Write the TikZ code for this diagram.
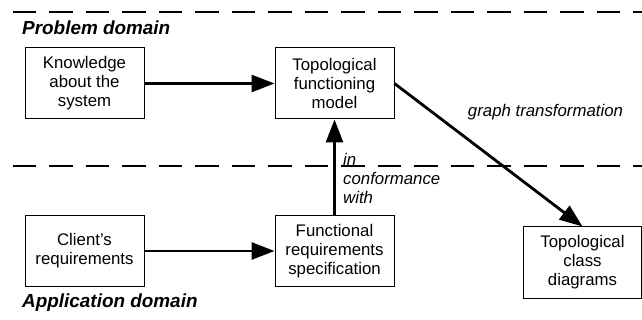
\documentclass[tikz,border=0pt]{standalone}
\usepackage{fontspec}
\setmainfont{Liberation Sans}
\usetikzlibrary{arrows.meta,positioning}

\begin{document}
\begin{tikzpicture}[x=1pt,y=-1pt,
  box/.style={draw,line width=1pt,minimum width=119pt,minimum height=71pt,align=center,inner sep=2pt,font=\fontsize{16.8}{19}\selectfont},
  flow/.style={line width=2.8pt,-{Triangle[length=23pt,width=17pt]}},
  sep/.style={line width=1.4pt,dash pattern=on 23.5pt off 13pt},
  areatitle/.style={anchor=west,inner sep=0pt,font=\fontsize{18.9}{22}\selectfont\bfseries\itshape},
  note/.style={inner sep=0pt,align=left,font=\fontsize{16.8}{19}\selectfont\itshape}]
  \useasboundingbox (0,0) rectangle (642,320);
  % domain borders
  \coordinate (T1) at (12.7,12); \coordinate (T2) at (642,12);
  \coordinate (M1) at (12.7,166); \coordinate (M2) at (642,166);
  \draw[sep] (T1)--(T2);
  \draw[sep] (M1)--(M2);
  \node[areatitle] (pd) at (22,28) {Problem domain};
  \node[areatitle] (ad) at (22,303) {Application domain};
  % models
  \node[box] (know) at (84.5,83.5) {Knowledge\\about the\\system};
  \node[box] (tfm) at (334.5,83.5) {Topological\\functioning\\model};
  \node[box] (client) at (84.5,251) {Client’s\\requirements};
  \node[box] (frs) at (334.5,251) {Functional\\requirements\\specification};
  \node[box,minimum width=118pt] (tcd) at (582.5,262.5) {Topological\\class\\diagrams};
  \draw[flow] (know)--(tfm);
  \draw[flow] (client)--(frs);
  \draw[flow] (frs)--(tfm);
  \draw[flow] (tfm.east)--(tcd.north);
  \node[note,anchor=west] (conf) at (343,178.5) {in\\conformance\\with};
  \node[note] (gt) at (545.5,112) {graph transformation};
\end{tikzpicture}
\end{document}
